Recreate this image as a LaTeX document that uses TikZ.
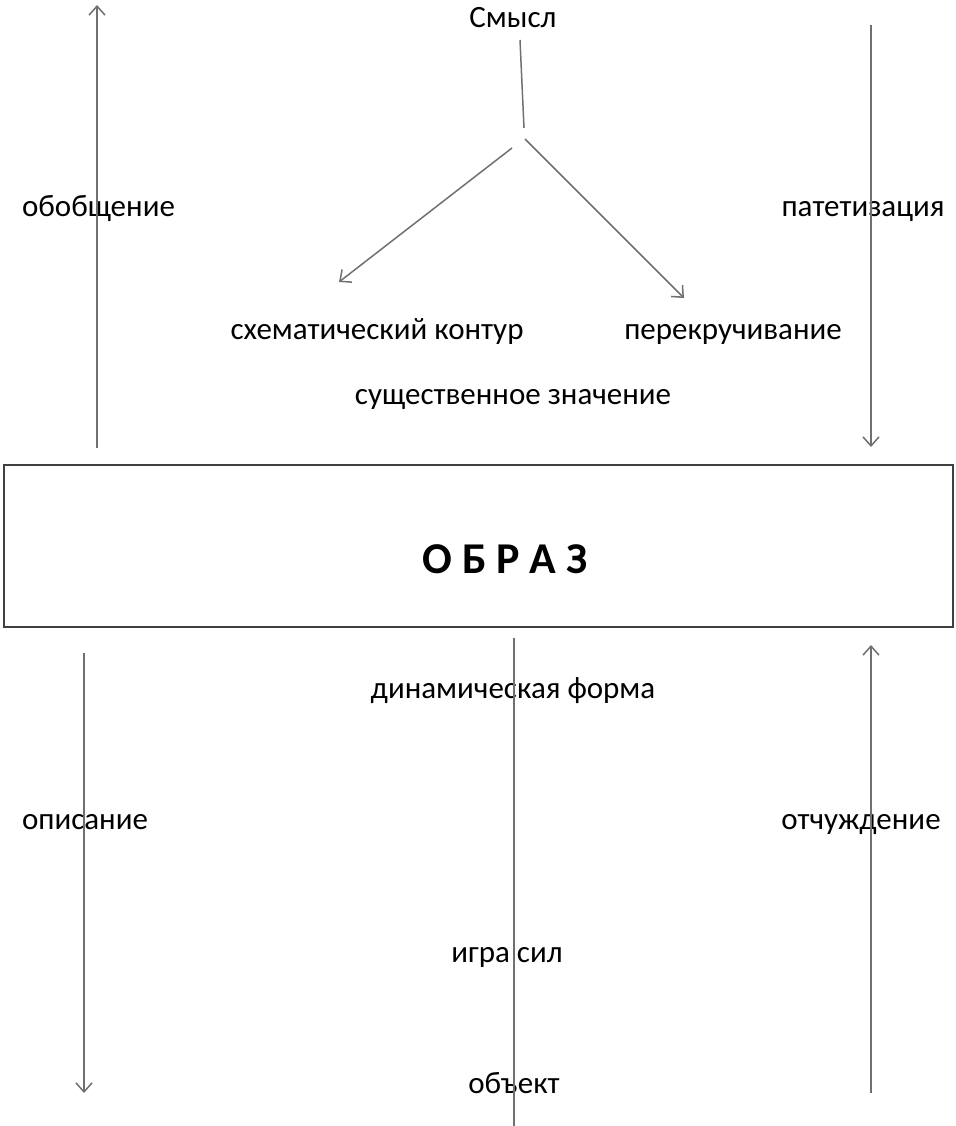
\documentclass[tikz,border=0pt]{standalone}
\usepackage{fontspec}
\setmainfont{Carlito}
\usetikzlibrary{arrows.meta}
\definecolor{arrgray}{HTML}{707070}
\definecolor{boxgray}{HTML}{404040}
\begin{document}
\begin{tikzpicture}[x=1pt,y=-1pt,
  lbl/.style={font=\fontsize{31}{36}\selectfont, inner sep=0pt, anchor=base},
  conn/.style={draw=arrgray, line width=1.5pt},
  arr/.style={conn, -{Straight Barb[length=9pt,width=16pt,line width=1.5pt]}}]
\useasboundingbox (0,0) rectangle (955,1126);
% labels
\node[lbl] (smysl) at (513,28) {Смысл};
\node[lbl] (obob) at (98.5,216) {обобщение};
\node[lbl] (patet) at (863,216) {патетизация};
\node[lbl] (shem) at (377,339) {схематический контур};
\node[lbl] (perek) at (733,339) {перекручивание};
\node[lbl] (sushch) at (513,404) {существенное значение};
\node[draw=boxgray, line width=2pt, minimum width=949pt, minimum height=162pt, inner sep=0pt] (obraz) at (478.5,546) {};
\node[font=\fontsize{44}{50}\selectfont\bfseries, inner sep=0pt, anchor=base] (obrazt) at (505,573) {О Б Р А З};
\node[lbl] (dinam) at (513,698) {динамическая форма};
\node[lbl] (opis) at (85,829) {описание};
\node[lbl] (otch) at (861,829) {отчуждение};
\node[lbl] (igra) at (507,962) {игра сил};
\node[lbl] (obekt) at (514,1093) {объект};
% coordinates
\coordinate (a1s) at (97,448); \coordinate (a1e) at (97,5);
\coordinate (a2s) at (871,25); \coordinate (a2e) at (871,447);
\coordinate (l1s) at (520,40); \coordinate (l1e) at (524,128);
\coordinate (a3s) at (512,148); \coordinate (a3e) at (339,282);
\coordinate (a4s) at (525,139); \coordinate (a4e) at (684,298);
\coordinate (a5s) at (84,653); \coordinate (a5e) at (84,1093);
\coordinate (l2s) at (514,638); \coordinate (l2e) at (514,1126);
\coordinate (a6s) at (871,1093); \coordinate (a6e) at (871,645);
% connectors
\draw[arr] (a1s) -- (a1e);
\draw[arr] (a2s) -- (a2e);
\draw[conn] (l1s) -- (l1e);
\draw[arr] (a3s) -- (a3e);
\draw[arr] (a4s) -- (a4e);
\draw[arr] (a5s) -- (a5e);
\draw[conn] (l2s) -- (l2e);
\draw[arr] (a6s) -- (a6e);
\end{tikzpicture}
\end{document}
